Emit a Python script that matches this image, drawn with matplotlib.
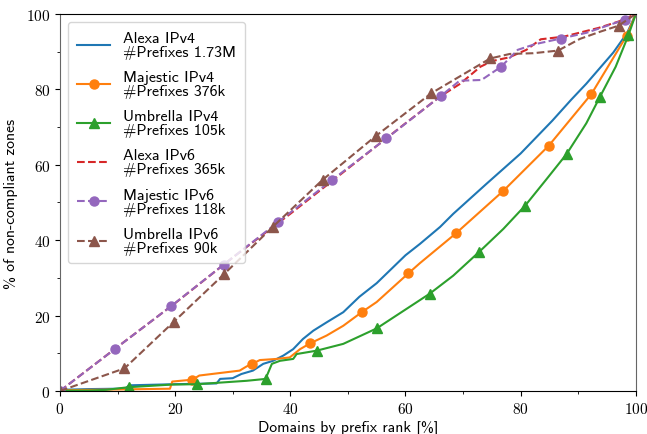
import matplotlib
matplotlib.use("Agg")
import matplotlib.pyplot as plt
from matplotlib.ticker import MultipleLocator

plt.rcParams['axes.formatter.use_mathtext'] = True

# ---------------- data ----------------
labels = [
    "Alexa IPv4\n#Prefixes 1.73M",
    "Majestic IPv4\n#Prefixes 376k",
    "Umbrella IPv4\n#Prefixes 105k",
    "Alexa IPv6\n#Prefixes 365k",
    "Majestic IPv6\n#Prefixes 118k",
    "Umbrella IPv6\n#Prefixes 90k",
]

alexa4_x = [0, 5, 10, 11.5, 12, 20, 27.2, 27.8, 30.0, 31.5, 33.5, 35.3, 37.0, 38.8,
            40.5, 42.2, 44.0, 46.3, 49.2, 52.0, 55.0, 60.0, 62.5, 66.0, 68.3, 74.1,
            80.0, 85.5, 88.8, 91.4, 96.1, 98.5, 100]
alexa4_y = [0.3, 0.5, 0.6, 0.8, 1.5, 1.8, 2.0, 3.2, 3.4, 4.5, 5.4, 7.2, 8.0, 9.4,
            11.1, 13.8, 16.0, 18.2, 20.9, 25.0, 28.6, 36.0, 39.0, 43.5, 47.0, 55.0,
            63.0, 71.7, 77.3, 81.5, 89.8, 95.0, 100]

majestic4_x = [0, 10, 19.1, 19.5, 23.0, 24.2, 31.2, 32.4, 33.4, 34.7, 37.6, 39.9,
               41.7, 43.4, 46.3, 49.2, 52.4, 55.0, 60.5, 62.5, 68.75, 77.0, 84.9,
               92.3, 98.4, 100]
majestic4_y = [0.2, 0.4, 0.6, 2.5, 3.0, 4.1, 5.4, 6.5, 7.2, 8.2, 8.5, 8.9,
               11.1, 12.6, 14.7, 17.3, 20.9, 23.6, 31.2, 33.9, 41.8, 53.1, 65.1,
               78.8, 94.2, 100]
majestic4_mk = [23.0, 33.4, 43.4, 52.4, 60.5, 68.75, 77.0, 84.9, 92.3, 98.4]

umbrella4_x = [0, 5, 8, 11.9, 19.4, 23.8, 32.4, 35.7, 36.8, 38.2, 40.5, 41.1, 44.6,
               49.2, 55.0, 60.2, 64.2, 68.3, 72.8, 77.0, 80.8, 84.5, 88.0, 91.4,
               93.8, 96.5, 98.7, 100]
umbrella4_y = [0.1, 0.1, 0.3, 1.0, 1.7, 1.8, 2.7, 3.2, 7.2, 8.0, 8.5, 9.8, 10.7,
               12.5, 16.6, 21.8, 25.8, 30.6, 36.9, 43.0, 49.2, 56.2, 62.9, 71.0,
               78.1, 86.0, 94.3, 100]
umbrella4_mk = [11.9, 23.8, 35.7, 44.6, 55.0, 64.2, 72.8, 80.8, 88.0, 93.8, 98.7]

alexa6_x = [0, 10, 20, 30, 40, 50, 60, 66.1, 69.5, 73.0, 75.0, 78.0, 81.0, 83.5,
            87.5, 93.5, 97.0, 100]
alexa6_y = [0, 11.7, 23.3, 35.4, 47.0, 59.0, 71.0, 78.2, 81.5, 86.0, 87.5, 88.5,
            90.5, 93.3, 94.0, 96.3, 98.0, 100]

majestic6_x = [0, 9.5, 19.3, 28.4, 37.8, 47.2, 56.7, 66.1, 69.4, 73.2, 76.6, 79.5,
               82.5, 87.0, 91.4, 98.1, 100]
majestic6_y = [0, 11.1, 22.5, 33.5, 44.7, 55.9, 67.0, 78.2, 82.3, 82.5, 86.0, 90.5,
               92.0, 93.5, 95.0, 98.5, 100]
majestic6_mk = [0, 9.5, 19.3, 28.4, 37.8, 47.2, 56.7, 66.1, 76.6, 87.0, 98.1]

umbrella6_x = [0, 11.2, 19.8, 28.5, 37.0, 45.6, 54.9, 64.5, 74.7, 78.1, 82.2, 86.5,
               90.3, 93.8, 97.0, 100]
umbrella6_y = [0, 6.0, 18.4, 31.0, 43.6, 56.0, 67.7, 79.0, 88.2, 89.4, 89.6, 90.3,
               93.4, 95.3, 96.9, 100]
umbrella6_mk = [0, 11.2, 19.8, 28.5, 37.0, 45.6, 54.9, 64.5, 74.7, 86.5, 97.0]

x_ticks = [0, 20, 40, 60, 80, 100]
y_ticks = [0, 20, 40, 60, 80, 100]
x_label = "Domains by prefix rank [%]"
y_label = "% of non-compliant zones"

# ---------------- plot ----------------
fig = plt.figure(figsize=(6.47, 4.35), dpi=100)
ax = fig.add_axes([0.0927, 0.0989, 0.890, 0.8666])


def idx(xs, mk):
    return [xs.index(v) for v in mk]


ax.plot(alexa4_x, alexa4_y, color="C0", lw=1.5, label=labels[0])
ax.plot(majestic4_x, majestic4_y, color="C1", lw=1.5, marker="o", ms=6.5,
        markevery=idx(majestic4_x, majestic4_mk), label=labels[1])
ax.plot(umbrella4_x, umbrella4_y, color="C2", lw=1.5, marker="^", ms=6.5,
        markevery=idx(umbrella4_x, umbrella4_mk), label=labels[2])
ax.plot(alexa6_x, alexa6_y, color="C3", lw=1.5, ls="--", label=labels[3])
ax.plot(majestic6_x, majestic6_y, color="C4", lw=1.5, ls="--", marker="o", ms=6.5,
        markevery=idx(majestic6_x, majestic6_mk), label=labels[4])
ax.plot(umbrella6_x, umbrella6_y, color="C5", lw=1.5, ls="--", marker="^", ms=6.5,
        markevery=idx(umbrella6_x, umbrella6_mk), label=labels[5])

ax.set_xlim(0, 100)
ax.set_ylim(0, 100)
ax.set_xticks(x_ticks)
ax.set_yticks(y_ticks)
ax.xaxis.set_minor_locator(MultipleLocator(10))
ax.yaxis.set_minor_locator(MultipleLocator(10))
for lab in ax.get_xticklabels() + ax.get_yticklabels():
    lab.set_fontfamily("cmr10")
    lab.set_fontsize(11)

ax.set_xlabel(x_label, fontfamily="cmss10", fontsize=11.3, labelpad=3)
ax.set_ylabel(y_label, fontfamily="cmss10", fontsize=11.3, labelpad=6)

ax.spines["left"].set_color("#666666")
ax.spines["right"].set_color("#666666")

leg = ax.legend(loc="upper left", prop={"family": "cmss10", "size": 11.5},
                labelspacing=0.7, borderpad=0.55, handlelength=2.1,
                framealpha=0.8, edgecolor="#cccccc", fancybox=True)
for t in leg.get_texts():
    t.set_linespacing(1.0)

fig.savefig("out.png", dpi=100)
